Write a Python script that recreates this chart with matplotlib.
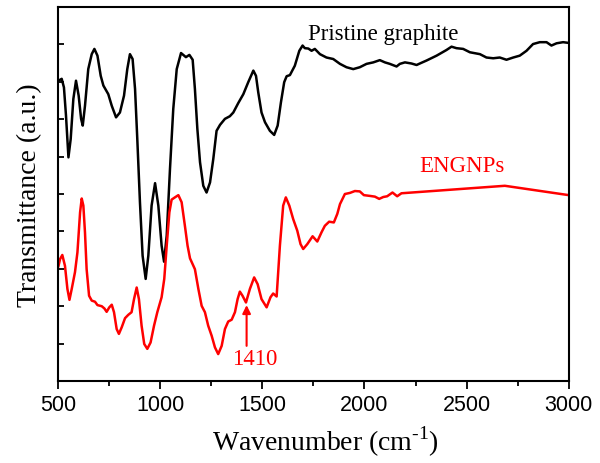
import matplotlib
matplotlib.use("Agg")
import matplotlib.pyplot as plt

# traced FTIR spectra (wavenumber in cm-1, transmittance in arbitrary units)
graphite_wn = [502, 518, 529, 539, 551, 562, 575, 588, 601, 613, 621, 632, 648,
               665, 678, 693, 709, 722, 746, 763, 784, 803, 823, 839, 852, 865,
               877, 888, 901, 914, 929, 942, 958, 975, 991, 1007, 1019, 1032,
               1048, 1064, 1081, 1102, 1113, 1126, 1143, 1159, 1170, 1182, 1195,
               1211, 1227, 1244, 1260, 1276, 1293, 1317, 1341, 1358, 1382, 1407,
               1431, 1456, 1469, 1480, 1496, 1513, 1537, 1558, 1575, 1591, 1607,
               1619, 1635, 1659, 1681, 1697, 1708, 1725, 1741, 1757, 1782, 1814,
               1847, 1880, 1912, 1945, 1977, 2010, 2043, 2075, 2100, 2124, 2157,
               2173, 2198, 2230, 2255, 2271, 2304, 2353, 2401, 2426, 2450, 2483,
               2516, 2565, 2597, 2630, 2662, 2695, 2728, 2760, 2793, 2825, 2858,
               2891, 2915, 2940, 2972, 3000]
graphite_t = [8.03, 8.08, 7.85, 7.10, 5.98, 6.47, 7.54, 8.03, 7.63, 7.01, 6.83,
              7.36, 8.34, 8.74, 8.88, 8.70, 8.16, 7.90, 7.67, 7.36, 7.05, 7.18,
              7.63, 8.34, 8.74, 8.61, 7.81, 6.47, 4.78, 3.35, 2.73, 3.35, 4.69,
              5.29, 4.69, 3.62, 3.19, 3.89, 5.67, 7.27, 8.34, 8.77, 8.72, 8.66,
              8.72, 8.59, 7.81, 6.74, 5.85, 5.22, 5.04, 5.31, 5.94, 6.69, 6.85,
              7.01, 7.08, 7.18, 7.43, 7.67, 7.99, 8.30, 8.16, 7.72, 7.18, 6.92,
              6.69, 6.58, 6.83, 7.45, 7.99, 8.15, 8.18, 8.43, 8.83, 8.97, 8.90,
              8.89, 8.83, 8.88, 8.74, 8.65, 8.61, 8.48, 8.39, 8.34, 8.39, 8.48,
              8.52, 8.58, 8.52, 8.48, 8.41, 8.48, 8.52, 8.49, 8.45, 8.49, 8.57,
              8.70, 8.85, 8.94, 8.90, 8.88, 8.79, 8.74, 8.65, 8.63, 8.65, 8.59,
              8.65, 8.70, 8.83, 9.01, 9.06, 9.06, 8.97, 9.03, 9.06, 9.04]

engnp_wn = [502, 510, 521, 534, 546, 556, 567, 583, 595, 608, 616, 624, 632,
            640, 652, 665, 681, 693, 714, 727, 738, 751, 763, 774, 787, 798,
            812, 828, 844, 860, 872, 885, 896, 909, 922, 937, 953, 970, 986,
            1007, 1020, 1032, 1045, 1056, 1072, 1089, 1105, 1121, 1134, 1146,
            1170, 1187, 1203, 1219, 1235, 1252, 1268, 1284, 1301, 1317, 1333,
            1350, 1366, 1379, 1390, 1403, 1420, 1439, 1460, 1477, 1496, 1521,
            1540, 1553, 1570, 1586, 1602, 1615, 1632, 1651, 1671, 1687, 1700,
            1720, 1746, 1769, 1790, 1806, 1827, 1850, 1867, 1880, 1904, 1929,
            1953, 1977, 1997, 2026, 2051, 2072, 2092, 2111, 2137, 2160, 2181,
            2687, 3000]
engnp_t = [3.07, 3.26, 3.37, 3.08, 2.46, 2.17, 2.46, 2.91, 3.44, 4.51, 4.88,
           4.69, 3.97, 2.99, 2.28, 2.15, 2.12, 2.03, 2.00, 1.94, 1.85, 1.97,
           2.04, 1.84, 1.39, 1.26, 1.44, 1.68, 1.77, 1.84, 2.19, 2.50, 2.19,
           1.48, 0.99, 0.86, 1.03, 1.48, 1.84, 2.24, 2.73, 3.62, 4.51, 4.85,
           4.91, 4.97, 4.78, 4.15, 3.62, 3.28, 2.99, 2.46, 2.01, 1.84, 1.48,
           1.21, 0.90, 0.72, 0.94, 1.39, 1.59, 1.64, 1.84, 2.19, 2.39, 2.28,
           2.10, 2.46, 2.77, 2.59, 2.19, 1.97, 2.24, 2.34, 2.26, 3.62, 4.69,
           4.91, 4.69, 4.33, 4.02, 3.66, 3.53, 3.66, 3.87, 3.73, 3.98, 4.15,
           4.26, 4.24, 4.47, 4.73, 5.00, 5.03, 5.08, 5.07, 4.97, 4.95, 4.93,
           4.87, 4.92, 4.94, 5.04, 4.94, 5.02, 5.22, 4.97]

x_ticks = [500, 1000, 1500, 2000, 2500, 3000]
x_minor = [750, 1250, 1750, 2250, 2750]
y_ticks = [1, 2, 3, 4, 5, 6, 7, 8, 9]

plt.rcParams["mathtext.fontset"] = "custom"
plt.rcParams["mathtext.rm"] = "Liberation Serif"
serif = "Liberation Serif"

fig = plt.figure(figsize=(6, 4.64), dpi=100)
ax = fig.add_axes([0.0967, 0.1767, 0.8513, 0.806])

ax.plot(graphite_wn, graphite_t, color="black", lw=1.8, solid_joinstyle="round")
ax.plot(engnp_wn, engnp_t, color="#ff0000", lw=1.8, solid_joinstyle="round")

ax.text(1723, 9.28, "Pristine graphite", family=serif, fontsize=16.5,
        color="black", ha="left", va="center")
ax.text(2479, 5.75, "ENGNPs", family=serif, fontsize=16.5,
        color="#ff0000", ha="center", va="center")
ax.annotate("", xy=(1423, 2.03), xytext=(1423, 0.94),
            arrowprops=dict(arrowstyle="-|>", color="#ff0000", lw=1.5,
                            mutation_scale=12, shrinkA=0, shrinkB=0))
ax.text(1464, 0.59, "1410", family=serif, fontsize=16.5, color="#ff0000",
        ha="center", va="center")

ax.set_xlim(500, 3000)
ax.set_ylim(0, 10)
ax.set_xticks(x_ticks)
ax.set_xticks(x_minor, minor=True)
ax.set_yticks(y_ticks)
ax.set_yticklabels([])
ax.tick_params(axis="x", which="major", direction="out", length=6, width=1.3,
               labelsize=15.5, pad=3)
ax.tick_params(axis="x", which="minor", direction="out", length=3.5, width=1.3)
ax.tick_params(axis="y", direction="in", length=4, width=1.3)
for lab in ax.get_xticklabels():
    lab.set_family("Liberation Sans")
for s in ax.spines.values():
    s.set_linewidth(1.5)

ax.set_xlabel(r"Wavenumber (cm$^{\text{-}1}$)", family=serif, fontsize=20)
ax.xaxis.set_label_coords(0.524, -0.115)
ax.set_ylabel("Transmittance (a.u.)", family=serif, fontsize=20, labelpad=8)

fig.savefig("out.png", dpi=100)
